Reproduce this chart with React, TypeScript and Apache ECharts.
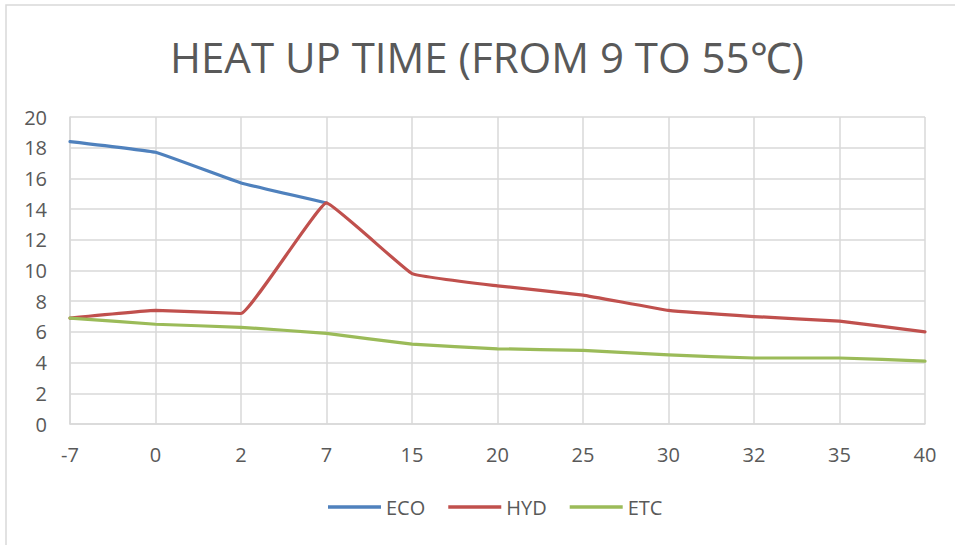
import React, { useEffect, useRef } from "react";
import * as echarts from "echarts";

const categories = ["-7", "0", "2", "7", "15", "20", "25", "30", "32", "35", "40"];
const eco = [18.4, 17.7, 15.7, 14.4, null, null, null, null, null, null, null];
const hyd = [6.9, 7.4, 7.2, 14.4, 9.8, 9.0, 8.4, 7.4, 7.0, 6.7, 6.0];
const etc = [6.9, 6.5, 6.3, 5.9, 5.2, 4.9, 4.8, 4.5, 4.3, 4.3, 4.1];
const title = "HEAT UP TIME (FROM 9 TO 55℃)";

const FONT = "'Open Sans', 'Liberation Sans', sans-serif";
const TEXT = "#595959";

export default function App() {
  const ref = useRef<HTMLDivElement>(null);
  useEffect(() => {
    if (!ref.current) return;
    const chart = echarts.init(ref.current, null, { renderer: "svg" });
    const lineSeries = (name: string, data: (number | null)[], color: string) => ({
      name,
      type: "line",
      data,
      symbol: "none",
      smooth: 0.08,
      lineStyle: { color, width: 3.2, cap: "round", join: "round" },
      itemStyle: { color },
    });
    chart.setOption({
      animation: false,
      backgroundColor: "#ffffff",
      textStyle: { fontFamily: FONT },
      graphic: [
        {
          type: "rect",
          shape: { x: 6, y: 5, width: 1000, height: 600 },
          style: { fill: "none", stroke: "#D9D9D9", lineWidth: 1.5 },
          silent: true,
        },
        {
          type: "text",
          x: 487,
          y: 56,
          silent: true,
          style: {
            text: title,
            fontFamily: FONT,
            fontSize: 42,
            fill: TEXT,
            align: "center",
            verticalAlign: "middle",
          },
        },
      ],
      legend: {
        bottom: 23,
        left: 323,
        icon: "rect",
        itemWidth: 53,
        itemHeight: 3.5,
        itemGap: 23,
        textStyle: { fontFamily: FONT, fontSize: 20, color: TEXT },
        data: ["ECO", "HYD", "ETC"],
      },
      grid: { left: 70, right: 30, top: 117, bottom: 121, containLabel: false },
      xAxis: {
        type: "category",
        data: categories,
        boundaryGap: false,
        axisLine: { lineStyle: { color: "#D9D9D9", width: 1.5 } },
        axisTick: { show: false },
        axisLabel: { color: TEXT, fontSize: 20, fontFamily: FONT, margin: 20 },
        splitLine: { show: true, lineStyle: { color: "#D9D9D9", width: 1.5 } },
      },
      yAxis: {
        type: "value",
        min: 0,
        max: 20,
        interval: 2,
        axisLine: { show: true, lineStyle: { color: "#D9D9D9", width: 1.5 } },
        axisTick: { show: false },
        axisLabel: { color: TEXT, fontSize: 20, fontFamily: FONT, margin: 23 },
        splitLine: { show: true, lineStyle: { color: "#D9D9D9", width: 1.5 } },
      },
      series: [
        lineSeries("ECO", eco, "#4F81BD"),
        lineSeries("HYD", hyd, "#C0504D"),
        lineSeries("ETC", etc, "#9BBB59"),
      ],
    });
    return () => chart.dispose();
  }, []);
  return (
    <div
      ref={ref}
      style={{ position: "fixed", left: 0, top: 0, width: 955, height: 545, background: "#fff" }}
    />
  );
}
